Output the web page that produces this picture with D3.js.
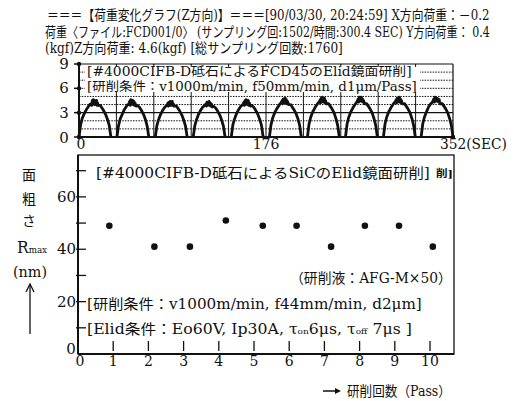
<!DOCTYPE html>
<html><head><meta charset="utf-8">
<script src="https://cdn.jsdelivr.net/npm/d3@7"></script>
<style>
body{margin:0;background:#fff}
svg{display:block}
text{font-family:"DejaVu Serif","Noto Sans CJK JP",serif;fill:#111}
</style>
</head><body><svg id="c" width="514" height="401"></svg>
<script>
// ---------- data ----------
const headerLines = [
  "＝＝＝【荷重変化グラフ(Z方向)】＝＝＝[90/03/30, 20:24:59]  X方向荷重：－0.2",
  "荷重〈ファイル:FCD001/0〉 (サンプリング回:1502/時間:300.4 SEC)  Y方向荷重：   0.4",
  "(kgf)Z方向荷重: 4.6(kgf) [総サンプリング回数:1760]"
];
const loadTicksY = [0, 3, 6, 9];
const loadTicksX = [0, 176, 352];
const loadGridY = [1, 2, 4, 5, 6, 7, 8];
const loadGridStep = 35.2;
const passStart = [0, 35.7, 71.8, 107.5, 143.3, 179.2, 215, 250.8, 286.5, 322];
const passOffsets = [0,1.5,3,5,7,9,10,11,12,12.5,13,13.5,14,14.5,15,15.5,16,16.5,17,17.5,18,19,20,21,23,25,27,28.5,30];
const passLoads = [
  [0,1.5,2.3,2.9,3.4,3.8,4.0,4.1,3.9,4.5,4.0,4.6,4.1,4.5,4.0,4.4,4.1,4.5,3.9,4.2,3.9,3.9,3.9,3.7,3.3,2.8,2.1,1.4,0],
  [0,1.4,2.2,2.8,3.4,3.8,4.0,4.0,4.4,3.9,4.6,4.0,4.3,4.1,4.5,4.0,4.4,3.9,4.2,4.0,3.8,3.9,3.8,3.7,3.3,2.8,2.1,1.3,0],
  [0,1.4,2.1,2.8,3.3,3.7,3.8,3.9,4.2,3.8,4.3,3.9,4.4,3.9,4.2,3.9,4.4,3.9,4.1,3.8,3.9,3.8,3.8,3.6,3.2,2.7,2.0,1.3,0],
  [0,1.4,2.1,2.8,3.3,3.7,3.8,3.9,4.1,3.8,4.3,3.9,4.2,4.0,4.4,3.9,4.2,3.8,4.1,3.9,3.7,3.8,3.7,3.6,3.2,2.7,2.0,1.3,0],
  [0,1.5,2.2,2.9,3.4,3.8,3.9,4.0,4.3,3.9,4.5,4.0,4.6,4.1,4.4,4.0,4.5,3.9,4.2,4.0,3.8,3.9,3.8,3.7,3.3,2.8,2.1,1.4,0],
  [0,1.5,2.3,3.0,3.5,3.9,4.1,4.2,4.5,4.1,4.7,4.2,4.6,4.3,4.8,4.2,4.6,4.1,4.4,4.2,4.0,4.0,4.0,3.8,3.4,2.9,2.2,1.4,0],
  [0,1.6,2.4,3.1,3.6,4.0,4.2,4.3,4.6,4.2,4.8,4.3,4.9,4.4,4.7,4.3,4.8,4.2,4.5,4.3,4.1,4.1,4.1,3.9,3.5,3.0,2.2,1.4,0],
  [0,1.6,2.4,3.1,3.6,4.0,4.2,4.4,4.7,4.3,4.9,4.4,4.8,4.5,4.9,4.4,4.7,4.3,4.5,4.3,4.1,4.1,4.1,3.9,3.5,3.0,2.2,1.4,0],
  [0,1.6,2.4,3.1,3.6,4.0,4.2,4.3,4.6,4.2,4.8,4.3,4.7,4.4,4.9,4.3,4.7,4.2,4.5,4.2,4.1,4.1,4.1,3.9,3.5,3.0,2.2,1.4,0],
  [0,1.6,2.4,3.1,3.7,4.1,4.2,4.4,4.7,4.3,4.9,4.4,4.8,4.5,4.8,4.4,4.7,4.3,4.6,4.3,4.1,4.1,4.1,3.9,3.5,3.0,2.2,1.4,0]
];
const passTicks = [0,1,2,3,4,5,6,7,8,9,10];
const passPos = [0.89, 2.17, 3.18, 4.2, 5.25, 6.21, 7.19, 8.15, 9.12, 10.08];
const rmax = [49, 41, 41, 51, 49, 49, 41, 49, 49, 41];
const rmaxTicks = [0, 20, 40, 60];
const rmaxMinor = [10, 20, 30, 40, 50, 60, 70];

// ---------- drawing ----------
const svg = d3.select("#c");
const ink = "#111";

// text helper; when len is given the text is horizontally scaled to that width
function txt(s, x, y, size, opts = {}) {
  const g = svg.append("g").attr("transform", `translate(${x},${y})`);
  const t = g.append("text").attr("font-size", size);
  if (Array.isArray(s)) {
    s.forEach(p => {
      const ts = t.append("tspan").text(p[0]);
      if (p[1]) ts.attr("font-size", p[1]);
    });
  } else t.text(s);
  if (opts.anchor) t.attr("text-anchor", opts.anchor);
  if (opts.weight) t.attr("font-weight", opts.weight);
  if (opts.len) {
    const w = t.node().getComputedTextLength();
    g.attr("transform", `translate(${x},${y}) scale(${(opts.len / w).toFixed(4)},1)`);
  }
  return t;
}

// header
txt(headerLines[0], 47, 20, 14, {len: 443});
txt(headerLines[1], 45, 37, 14, {len: 445});
txt(headerLines[2], 45, 53, 14, {len: 298});

// ---- top chart ----
const xT = d3.scaleLinear().domain([0, 352]).range([79, 453]);
const yT = d3.scaleLinear().domain([0, 9]).range([137, 64]);
const gT = svg.append("g");

gT.selectAll("line.gy").data(loadGridY).join("line")
  .attr("x1", xT(0)).attr("x2", xT(352))
  .attr("y1", d => yT(d)).attr("y2", d => yT(d))
  .attr("stroke", ink).attr("stroke-width", 1).attr("stroke-dasharray", "1.5,1.2");
gT.append("line").attr("x1", xT(0)).attr("x2", xT(352))
  .attr("y1", yT(3)).attr("y2", yT(3)).attr("stroke", ink).attr("stroke-width", 1.2);
const vgrid = d3.range(1, 10).map(i => i * loadGridStep);
gT.selectAll("line.gx").data(vgrid).join("line")
  .attr("x1", d => xT(d)).attr("x2", d => xT(d))
  .attr("y1", yT(0)).attr("y2", yT(9))
  .attr("stroke", ink).attr("stroke-width", 1);

// load arches
const lineT = d3.line().x(d => xT(d[0])).y(d => yT(d[1]));
passLoads.forEach((vals, i) => {
  const pts = vals.map((v, j) => [passStart[i] + passOffsets[j], v]);
  gT.append("path").attr("d", lineT(pts)).attr("fill", "none")
    .attr("stroke", ink).attr("stroke-width", 2.8).attr("stroke-linejoin", "round");
});

// text box in top chart (white background)
gT.append("rect").attr("x", 85).attr("y", 65).attr("width", 335).attr("height", 27).attr("fill", "#fff");
txt("[#4000CIFB-D砥石によるFCD45のElid鏡面研削]", 87, 76, 12.5, {len: 325});
txt("[研削条件：v1000m/min, f50mm/min, d1μm/Pass]", 87, 90.5, 12.5, {len: 330});

// axes top
gT.append("line").attr("x1", xT(0)).attr("x2", xT(0)).attr("y1", yT(0)).attr("y2", yT(9)).attr("stroke", ink).attr("stroke-width", 2);
gT.append("line").attr("x1", xT(0)).attr("x2", xT(352)).attr("y1", yT(0)).attr("y2", yT(0)).attr("stroke", ink).attr("stroke-width", 2);
gT.append("line").attr("x1", xT(0)).attr("x2", xT(352)).attr("y1", yT(9)).attr("y2", yT(9)).attr("stroke", ink).attr("stroke-width", 1.2);
gT.append("line").attr("x1", xT(352)).attr("x2", xT(352)).attr("y1", yT(0)).attr("y2", yT(9)).attr("stroke", ink).attr("stroke-width", 1.2);
gT.selectAll("line.tt").data(vgrid).join("line")
  .attr("x1", d => xT(d)).attr("x2", d => xT(d)).attr("y1", yT(9)).attr("y2", yT(9) + 3)
  .attr("stroke", ink).attr("stroke-width", 1);
gT.selectAll("line.ty").data(loadTicksY).join("line")
  .attr("x1", xT(0) - 5).attr("x2", xT(0)).attr("y1", d => yT(d)).attr("y2", d => yT(d))
  .attr("stroke", ink).attr("stroke-width", 1.5);
gT.selectAll("circle.ty").data(loadTicksY).join("circle")
  .attr("cx", xT(0)).attr("cy", d => yT(d)).attr("r", 2.2).attr("fill", ink);
gT.append("circle").attr("cx", xT(352)).attr("cy", yT(0)).attr("r", 2.2).attr("fill", ink);
loadTicksY.forEach(d => txt(String(d), 64, yT(d) + 5 + (d === 0 ? 1 : 0), 15, {anchor: "middle"}));
txt(String(loadTicksX[0]), xT(0) + 2, 149, 14, {anchor: "middle"});
txt(String(loadTicksX[1]), xT(176), 149, 14, {anchor: "middle"});
txt(String(loadTicksX[2]) + "(SEC)", 440, 149, 14, {len: 67});

// ---- bottom chart ----
const xB = d3.scaleLinear().domain([0, 10]).range([78, 430]);
const yB = d3.scaleLinear().domain([0, 76]).range([354, 155]);
const gB = svg.append("g");
const xMax = xB.invert(454);

gB.append("rect").attr("x", xB(0)).attr("y", yB(76)).attr("width", xB(xMax) - xB(0)).attr("height", yB(0) - yB(76))
  .attr("fill", "none").attr("stroke", ink).attr("stroke-width", 1.3);
gB.append("line").attr("x1", xB(0)).attr("x2", xB(0)).attr("y1", yB(0)).attr("y2", yB(76)).attr("stroke", ink).attr("stroke-width", 2);
gB.append("line").attr("x1", xB(0)).attr("x2", xB(xMax)).attr("y1", yB(0)).attr("y2", yB(0)).attr("stroke", ink).attr("stroke-width", 2.2);

gB.selectAll("line.ty").data(rmaxMinor).join("line")
  .attr("x1", xB(0) - 2).attr("x2", xB(0) + 8).attr("y1", d => yB(d)).attr("y2", d => yB(d))
  .attr("stroke", ink).attr("stroke-width", 1.3);
gB.selectAll("line.tx").data(passTicks.slice(1)).join("line")
  .attr("x1", d => xB(d)).attr("x2", d => xB(d)).attr("y1", yB(0) - 13).attr("y2", yB(0) - 3)
  .attr("stroke", ink).attr("stroke-width", 1.3);
rmaxTicks.forEach(d => {
  if (d === 0) txt("0", 71, 354, 15, {anchor: "middle"});
  else txt(String(d), 76, yB(d) + 5, 15, {anchor: "end"});
});
passTicks.forEach(d => txt(String(d), xB(d) + (d === 0 ? 2 : 0), 366, 14, {anchor: "middle"}));

gB.selectAll("circle.pt").data(rmax).join("circle")
  .attr("cx", (d, i) => xB(passPos[i])).attr("cy", d => yB(d)).attr("r", 3.3).attr("fill", ink);

txt("[#4000CIFB-D砥石によるSiCのElid鏡面研削]", 96, 178, 14, {len: 334});
txt("削]", 436, 177, 10, {len: 17, weight: "bold"});
txt("（研削液：AFG-M×50）", 290, 283, 14, {len: 162});
txt("[研削条件：v1000m/min, f44mm/min, d2μm]", 87, 309, 14, {len: 335});
txt([["[Elid条件：Eo60V, Ip30A, τ"], ["on", 8], ["6μs, τ"], ["off", 8], [" 7μs ]"]], 87, 334, 14, {len: 325});

// y axis label
txt("面", 29, 180, 14, {anchor: "middle"});
txt("粗", 29, 204, 14, {anchor: "middle"});
txt("さ", 29, 226, 14, {anchor: "middle"});
txt([["R", 16], ["max", 9]], 17, 253, 16, {len: 30});
txt("(nm)", 13, 277, 14, {len: 34});
svg.append("line").attr("x1", 30).attr("x2", 30).attr("y1", 334).attr("y2", 285).attr("stroke", ink).attr("stroke-width", 1.3);
svg.append("path").attr("d", "M26,292 L30,284 L34,292").attr("fill", "none").attr("stroke", ink).attr("stroke-width", 1.3);

// x axis label
svg.append("line").attr("x1", 323).attr("x2", 339).attr("y1", 391).attr("y2", 391).attr("stroke", ink).attr("stroke-width", 1.5);
svg.append("path").attr("d", "M335,388 L341,391 L335,394 Z").attr("fill", ink);
txt("研削回数（Pass）", 347, 396, 14, {len: 104});
</script>
</body></html>
